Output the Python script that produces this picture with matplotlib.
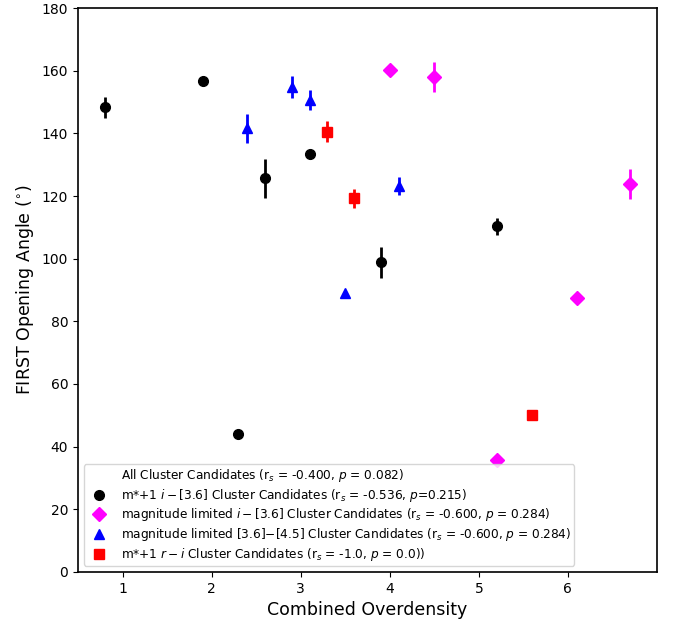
import matplotlib
matplotlib.use("Agg")
import matplotlib.pyplot as plt
from matplotlib.lines import Line2D

# m*+1 i-[3.6] (black circles)
bk_x = [0.8, 1.9, 2.3, 2.6, 3.1, 3.9, 5.2]
bk_y = [148.3, 156.8, 44.0, 125.7, 133.4, 98.8, 110.3]
bk_e = [3.3, 0.0, 0.0, 6.2, 0.0, 4.9, 2.7]

# magnitude limited i-[3.6] (magenta diamonds)
mg_x = [4.0, 4.5, 5.2, 6.1, 6.7]
mg_y = [160.4, 158.0, 35.8, 87.5, 123.8]
mg_e = [0.0, 4.7, 0.0, 0.0, 4.9]

# magnitude limited [3.6]-[4.5] (blue triangles)
bl_x = [2.4, 2.9, 3.1, 3.5, 4.1]
bl_y = [141.6, 154.9, 150.6, 89.2, 123.3]
bl_e = [4.6, 3.5, 3.2, 0.0, 2.9]

# m*+1 r-i (red squares)
rd_x = [3.3, 3.6, 5.6]
rd_y = [140.6, 119.3, 50.0]
rd_e = [3.3, 3.0, 0.0]

labels = [
    r"All Cluster Candidates (r$_s$ = -0.400, $p$ = 0.082)",
    r"m*+1 $i-$[3.6] Cluster Candidates (r$_s$ = -0.536, $p$=0.215)",
    r"magnitude limited $i-$[3.6] Cluster Candidates (r$_s$ = -0.600, $p$ = 0.284)",
    r"magnitude limited [3.6]$-$[4.5] Cluster Candidates (r$_s$ = -0.600, $p$ = 0.284)",
    r"m*+1 $r-i$ Cluster Candidates (r$_s$ = -1.0, $p$ = 0.0))",
]

fig = plt.figure(figsize=(6.78, 6.25), dpi=100)
ax = fig.add_axes([0.115, 0.085, 0.854, 0.902])

series = [
    (bk_x, bk_y, bk_e, 'o', 'black'),
    (mg_x, mg_y, mg_e, 'D', 'magenta'),
    (bl_x, bl_y, bl_e, '^', 'blue'),
    (rd_x, rd_y, rd_e, 's', 'red'),
]
handles = [Line2D([], [], ls='none', marker='none')]
for x, y, e, m, c in series:
    ax.errorbar(x, y, yerr=e, fmt=m, color=c, ms=7, elinewidth=2, capsize=0)
    handles.append(Line2D([], [], ls='none', marker=m, color=c, ms=7))

for s in ax.spines.values():
    s.set_linewidth(1.2)

ax.set_xlim(0.5, 7.0)
ax.set_ylim(0, 180)
ax.set_xticks([1, 2, 3, 4, 5, 6])
ax.set_yticks(range(0, 181, 20))
ax.set_xlabel("Combined Overdensity", fontsize=12.5)
ax.set_ylabel(r"FIRST Opening Angle ($^{\circ}$)", fontsize=12.5)

ax.legend(handles, labels, loc='lower left', fontsize=8.7, labelspacing=0.22,
          borderpad=0.25, numpoints=1)

fig.savefig("out.png", dpi=100)
